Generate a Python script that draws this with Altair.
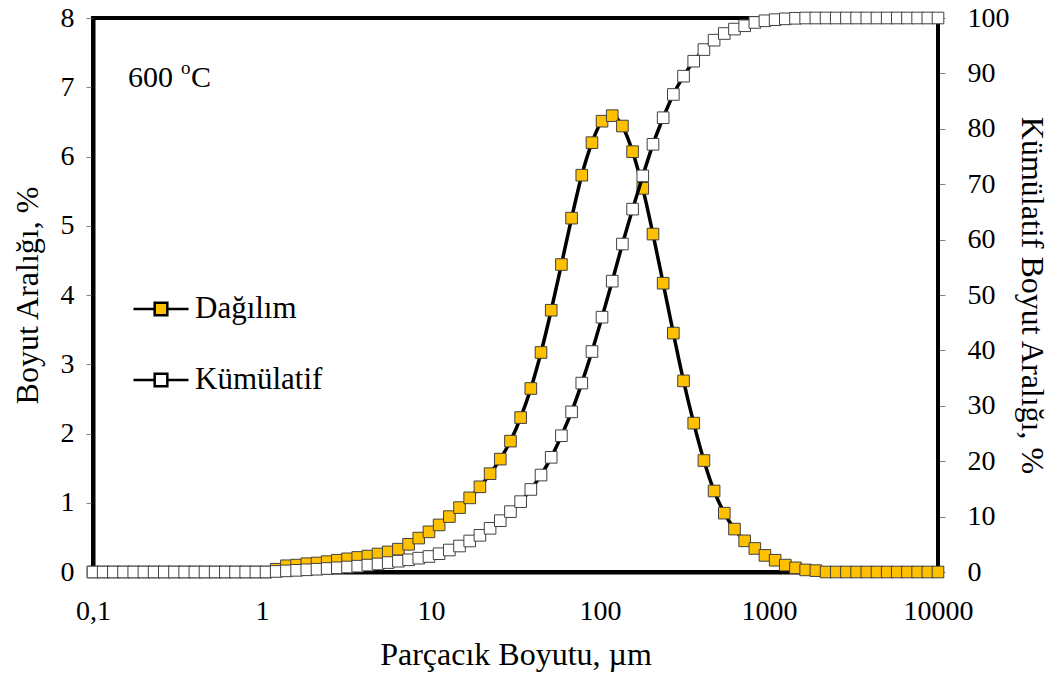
import altair as alt
import pandas as pd

# particle size bins (µm)
sizes = [0.1, 0.1149, 0.132, 0.1516, 0.1742, 0.2002, 0.23, 0.2642, 0.3035, 0.3487,
         0.4007, 0.46, 0.5284, 0.6069, 0.6972, 0.801, 0.9202, 1.057, 1.214, 1.395,
         1.603, 1.841, 2.116, 2.43, 2.792, 3.207, 3.684, 4.231, 4.86, 5.583,
         6.414, 7.368, 8.463, 9.727, 11.17, 12.84, 14.75, 16.94, 19.47, 22.37,
         25.7, 29.52, 33.92, 38.97, 44.77, 51.44, 59.1, 67.9, 78.01, 89.63,
         102.8, 118.1, 135.7, 155.9, 179.1, 205.8, 236.4, 271.6, 312.1, 358.6,
         412.0, 473.3, 543.8, 624.7, 717.8, 824.6, 946.1, 1087, 1249, 1435,
         1648, 1894, 2176, 2500, 2872, 3299, 3791, 4355, 5004, 5740,
         6594, 7576, 8704, 10000]

# Dağılım (left axis, %)
dagilim = [0] * 18 + [0.04,
           0.09, 0.10, 0.12, 0.13, 0.15, 0.17, 0.19, 0.21, 0.23, 0.26,
           0.29, 0.33, 0.40, 0.49, 0.58, 0.68, 0.80, 0.93, 1.07, 1.23,
           1.42, 1.63, 1.89,
           2.23, 2.65, 3.17, 3.78, 4.44, 5.11, 5.73, 6.20, 6.51, 6.59,
           6.44, 6.07, 5.54, 4.88, 4.17, 3.45, 2.76, 2.15, 1.61, 1.17,
           0.85, 0.62, 0.45, 0.34, 0.24, 0.17, 0.10, 0.06, 0.03, 0.02] + [0] * 12

# Kümülatif (right axis, %)
kumulatif = [0] * 18 + [0.1, 0.2, 0.3, 0.4, 0.5, 0.63, 0.76, 0.9, 1.05, 1.25,
             1.45, 1.7, 1.95, 2.2, 2.5, 2.8, 3.3, 3.97, 4.69, 5.6,
             6.62, 7.89, 9.26, 10.9, 12.7, 14.9, 17.5, 20.7, 24.6, 28.9,
             34.1, 39.8, 46.0, 52.5, 59.2, 65.5, 71.5, 77.2, 82.0, 86.2,
             89.5, 92.2, 94.3, 96.0, 97.2, 98.0, 98.6, 99.2, 99.5, 99.7,
             99.85, 99.95] + [100] * 14

x_ticks = [0.1, 1, 10, 100, 1000, 10000]
left_ticks = [0, 1, 2, 3, 4, 5, 6, 7, 8]
right_ticks = [0, 10, 20, 30, 40, 50, 60, 70, 80, 90, 100]
series_names = ["Dağılım", "Kümülatif"]
series_fill = ["#FFC000", "#FFFFFF"]

df_d = pd.DataFrame({"size": sizes, "value": dagilim, "series": series_names[0]})
df_c = pd.DataFrame({"size": sizes, "value": kumulatif, "series": series_names[1]})
df_ann = pd.DataFrame({"size": [0.161], "value": [7.0]})

FONT = "Liberation Serif"

x_enc = alt.X(
    "size:Q",
    scale=alt.Scale(type="log", domain=[0.1, 10000], nice=False),
    axis=alt.Axis(
        values=x_ticks,
        labelExpr="datum.value < 1 ? '0,1' : format(datum.value, 'd')",
        title="Parçacık Boyutu, µm",
        ticks=False,
        tickSize=0,
        labelPadding=25,
        labelFlush=False,
        labelOverlap=False,
        titlePadding=14,
    ),
)

y_left = alt.Y(
    "value:Q",
    scale=alt.Scale(domain=[0, 8], nice=False),
    axis=alt.Axis(orient="left", values=left_ticks, title="Boyut Aralığı, %",
                  labelPadding=12, titlePadding=16, labelFlush=False),
)
y_right = alt.Y(
    "value:Q",
    scale=alt.Scale(domain=[0, 100], nice=False),
    axis=alt.Axis(orient="right", values=right_ticks, title="Kümülatif Boyut Aralığı, %",
                  labelPadding=22, titlePadding=5, domainWidth=3, labelFlush=False),
)

legend_path = "M-1,0H-0.23M0.23,0H1M-0.23,-0.23H0.23V0.23H-0.23Z"
fill_enc = alt.Fill(
    "series:N",
    scale=alt.Scale(domain=series_names, range=series_fill),
    legend=alt.Legend(
        title=None, orient="none", legendX=39, legendY=262, padding=0,
        symbolType=legend_path, symbolSize=3025, symbolStrokeColor="black",
        symbolStrokeWidth=2.5, labelFont=FONT, labelFontSize=31, labelColor="black",
        labelOffset=5, rowPadding=27, labelLimit=300,
    ),
)

d_line = alt.Chart(df_d).mark_line(color="black", strokeWidth=3.5, interpolate="monotone").encode(
    x=x_enc, y=y_left)
d_pts = alt.Chart(df_d).mark_point(shape="square", size=135, filled=True, opacity=1,
                                   stroke="#404040", strokeWidth=1).encode(
    x=x_enc, y=y_left, fill=fill_enc)

ann1 = alt.Chart(df_ann).mark_text(text="600", font=FONT, fontSize=30, align="left",
                                   baseline="alphabetic", color="black").encode(x=x_enc, y=y_left)
ann2 = alt.Chart(df_ann).mark_text(text="o", font=FONT, fontSize=19, align="left", dx=53, dy=-13,
                                   baseline="alphabetic", color="black").encode(x=x_enc, y=y_left)
ann3 = alt.Chart(df_ann).mark_text(text="C", font=FONT, fontSize=30, align="left", dx=63,
                                   baseline="alphabetic", color="black").encode(x=x_enc, y=y_left)

c_line = alt.Chart(df_c).mark_line(color="black", strokeWidth=3.5, interpolate="monotone").encode(
    x=x_enc, y=y_right)
c_pts = alt.Chart(df_c).mark_point(shape="square", size=135, filled=True, opacity=1,
                                   stroke="#404040", strokeWidth=1).encode(
    x=x_enc, y=y_right, fill=fill_enc)

left = alt.layer(d_line, d_pts, ann1, ann2, ann3)
right = alt.layer(c_line, c_pts)

chart = alt.layer(left, right).resolve_scale(y="independent").properties(
    width=845, height=554,
    background="white",
    autosize=alt.AutoSizeParams(type="none"),
    padding={"left": 93, "top": 18, "right": 123, "bottom": 105},
).configure_view(
    stroke="black", strokeWidth=4
).configure_axis(
    grid=False,
    domainColor="black", domainWidth=4,
    tickColor="#808080", tickWidth=1, tickSize=7,
    labelFont=FONT, labelFontSize=28, labelColor="black",
    titleFont=FONT, titleFontSize=32, titleFontWeight="normal", titleColor="black",
)

chart.save("out.html", embed_options={"renderer": "svg", "actions": False})
